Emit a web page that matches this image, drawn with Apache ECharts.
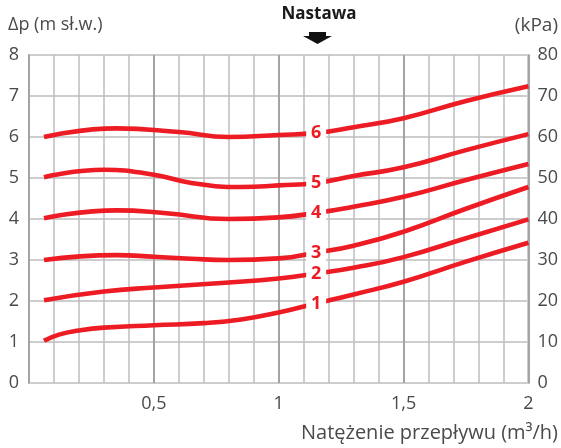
<!DOCTYPE html>
<html>
<head>
<meta charset="utf-8">
<script src="https://cdn.jsdelivr.net/npm/echarts@6/dist/echarts.min.js"></script>
<style>html,body{margin:0;padding:0;background:#fff;}#c{width:561px;height:448px;}</style>
</head>
<body>
<div id="c"></div>
<script>
// Flow (m3/h) and pressure (m H2O) readings for each setting curve
var flow1 = [0.06, 0.12, 0.2, 0.3, 0.5, 0.7, 0.85, 1.0, 1.15, 1.3, 1.5, 1.75, 2.0];
var head1 = [1.03, 1.18, 1.28, 1.35, 1.41, 1.46, 1.55, 1.72, 1.94, 2.16, 2.47, 2.96, 3.42];
var flow2 = [0.06, 0.3, 0.5, 0.8, 1.0, 1.15, 1.3, 1.5, 1.75, 2.0];
var head2 = [2.02, 2.23, 2.33, 2.45, 2.55, 2.67, 2.81, 3.07, 3.53, 3.99];
var flow3 = [0.06, 0.35, 0.5, 0.65, 0.8, 1.0, 1.15, 1.3, 1.5, 1.75, 2.0];
var head3 = [3.0, 3.12, 3.08, 3.03, 3.0, 3.04, 3.18, 3.35, 3.69, 4.25, 4.78];
var flow4 = [0.06, 0.35, 0.55, 0.8, 1.0, 1.15, 1.3, 1.5, 1.75, 2.0];
var head4 = [4.02, 4.21, 4.14, 4.0, 4.04, 4.15, 4.3, 4.54, 4.95, 5.34];
var flow5 = [0.06, 0.3, 0.5, 0.65, 0.85, 1.0, 1.15, 1.3, 1.5, 1.75, 2.0];
var head5 = [5.02, 5.2, 5.08, 4.88, 4.78, 4.82, 4.88, 5.05, 5.26, 5.68, 6.07];
var flow6 = [0.06, 0.35, 0.6, 0.8, 1.0, 1.15, 1.3, 1.5, 1.75, 2.0];
var head6 = [6.0, 6.21, 6.12, 6.0, 6.05, 6.1, 6.24, 6.46, 6.88, 7.24];
var settings = ['1', '2', '3', '4', '5', '6'];
var labelFlow = 1.15;
var labelHead = [1.94, 2.67, 3.18, 4.15, 4.88, 6.1];
var yTicksLeft = [0, 1, 2, 3, 4, 5, 6, 7, 8];
var yTicksRight = [0, 10, 20, 30, 40, 50, 60, 70, 80];

var flows = [flow1, flow2, flow3, flow4, flow5, flow6];
var heads = [head1, head2, head3, head4, head5, head6];

var FONT = '"Open Sans", "Noto Sans", sans-serif';
var RED = '#ed1c24';
var TXT = '#4a4a4a';

var series = settings.map(function (name, i) {
  return {
    type: 'line',
    name: name,
    smooth: 0.5,
    symbol: 'none',
    silent: true,
    lineStyle: { color: RED, width: 4.6 },
    data: flows[i].map(function (x, k) { return [x, heads[i][k]]; }),
    markPoint: {
      silent: true,
      symbol: 'rect',
      symbolSize: [20, 17],
      itemStyle: { color: '#ffffff' },
      label: {
        show: true, position: 'inside', formatter: name,
        color: RED, fontWeight: 'bold', fontSize: 18, fontFamily: FONT
      },
      data: [{ coord: [labelFlow, labelHead[i]] }]
    }
  };
});

var chart = echarts.init(document.getElementById('c'), null, { renderer: 'canvas' });
chart.setOption({
  animation: false,
  backgroundColor: '#ffffff',
  grid: {
    left: 29, right: 31, top: 55, bottom: 65,
    show: true, borderColor: '#a9a9a9', borderWidth: 2, backgroundColor: 'transparent'
  },
  xAxis: {
    type: 'value', min: 0, max: 2, interval: 0.5,
    axisLine: { show: false }, axisTick: { show: false },
    axisLabel: {
      showMinLabel: false, margin: 12, color: TXT, fontSize: 18, fontFamily: FONT,
      formatter: function (v) { return String(v).replace('.', ','); }
    },
    splitLine: { show: true, lineStyle: { color: '#a4a4a4', width: 2 } },
    minorTick: { show: false, splitNumber: 5 },
    minorSplitLine: { show: true, lineStyle: { color: '#bdbdbd', width: 1.5 } }
  },
  yAxis: [{
    type: 'value', min: yTicksLeft[0], max: yTicksLeft[yTicksLeft.length - 1], interval: 1,
    axisLine: { show: false }, axisTick: { show: false },
    axisLabel: { margin: 10, color: TXT, fontSize: 18, fontFamily: FONT },
    splitLine: { show: true, lineStyle: { color: '#cdcdcd', width: 2 } }
  }, {
    type: 'value', min: yTicksRight[0], max: yTicksRight[yTicksRight.length - 1], interval: 10,
    position: 'right',
    axisLine: { show: false }, axisTick: { show: false },
    axisLabel: { margin: 9, color: TXT, fontSize: 18, fontFamily: FONT },
    splitLine: { show: false }
  }],
  graphic: [
    { type: 'text', left: 8, top: 16, style: { text: 'Δp (m sł.w.)', fill: TXT, font: '18px ' + FONT } },
    { type: 'text', right: 3, top: 16, style: { text: '(kPa)', fill: TXT, font: '19px ' + FONT } },
    { type: 'text', right: 3, top: 423, style: { text: 'Natężenie przepływu (m³/h)', fill: TXT, font: '20px ' + FONT } },
    { type: 'text', x: 319, y: 14, style: { text: 'Nastawa', fill: '#1a1a1a', font: 'bold 17px ' + FONT, textAlign: 'center', textVerticalAlign: 'middle' } },
    { type: 'polygon', shape: { points: [[309, 32], [326, 32], [326, 36], [332, 36], [317.5, 44], [303, 36], [309, 36]] }, style: { fill: '#111' } }
  ],
  series: series
});
</script>
</body>
</html>
